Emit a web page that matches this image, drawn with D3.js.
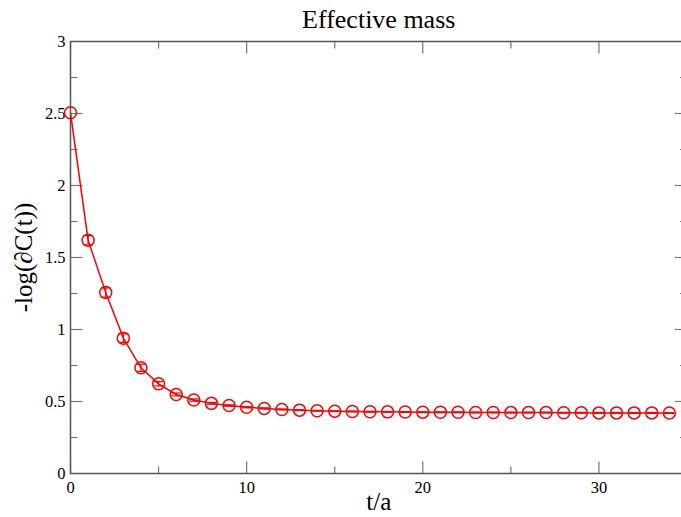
<!DOCTYPE html>
<html lang="en">
<head>
  <meta charset="UTF-8">
  <title>Effective mass</title>
  <script src="https://d3js.org/d3.v7.min.js"></script>
  <style>
    body { margin: 0; background: #fff; }
    svg { display: block; font-family: "Liberation Serif", "DejaVu Serif", serif; }
    .tick-label { font-size: 16.5px; fill: #000; }
    .axis-line { stroke: #555; stroke-width: 1.5; fill: none; }
    .tick { stroke: #777; stroke-width: 1.2; }
  </style>
</head>
<body>
  <svg id="chart" width="681" height="517"></svg>
  <script>
    // data
    const times = d3.range(0, 35);
    const massValues = [2.505, 1.62, 1.257, 0.94, 0.734, 0.623, 0.549, 0.51, 0.487, 0.472,
                        0.46, 0.452, 0.445, 0.44, 0.436, 0.433, 0.431, 0.429, 0.428, 0.427,
                        0.426, 0.425, 0.425, 0.424, 0.424, 0.423, 0.423, 0.423, 0.422, 0.422,
                        0.421, 0.421, 0.421, 0.421, 0.42];
    const massErrors = [0.0, 0.032, 0.032, 0.03, 0.025, 0.015, 0.01, 0.008, 0.006, 0.005,
                        0.004, 0.004, 0.003, 0.003, 0.003, 0.003, 0.003, 0.003, 0.003, 0.003,
                        0.003, 0.003, 0.003, 0.003, 0.003, 0.003, 0.003, 0.003, 0.003, 0.003,
                        0.003, 0.003, 0.003, 0.003, 0.003];
    const xMajorTicks = [0, 10, 20, 30];
    const xMinorTicks = [5, 15, 25];
    const yMajorTicks = [0, 0.5, 1, 1.5, 2, 2.5, 3];
    const yMinorTicks = [0.25, 0.75, 1.25, 1.75, 2.25, 2.75];

    const margin = {left: 70.5, top: 41.5, right: 687, bottom: 473.5};
    const svg = d3.select("#chart");

    const x = d3.scaleLinear().domain([0, 35]).range([margin.left, margin.right]);
    const y = d3.scaleLinear().domain([0, 3]).range([margin.bottom, margin.top]);

    const majorLen = 12, minorLen = 7;
    const g = svg.append("g");

    // ticks on all four sides, pointing inward
    function vTicks(vals, len) {
      vals.forEach(v => {
        g.append("line").attr("class", "tick")
          .attr("x1", x(v)).attr("x2", x(v))
          .attr("y1", margin.bottom).attr("y2", margin.bottom - len);
        g.append("line").attr("class", "tick")
          .attr("x1", x(v)).attr("x2", x(v))
          .attr("y1", margin.top).attr("y2", margin.top + len);
      });
    }
    function hTicks(vals, len) {
      vals.forEach(v => {
        g.append("line").attr("class", "tick")
          .attr("x1", margin.left).attr("x2", margin.left + len)
          .attr("y1", y(v)).attr("y2", y(v));
        g.append("line").attr("class", "tick")
          .attr("x1", margin.right).attr("x2", margin.right - len)
          .attr("y1", y(v)).attr("y2", y(v));
      });
    }
    vTicks(xMajorTicks, majorLen);
    vTicks(xMinorTicks, minorLen);
    hTicks(yMajorTicks.filter(v => v > 0 && v < 3), majorLen);
    hTicks(yMinorTicks, minorLen);

    // frame
    g.append("rect").attr("class", "axis-line")
      .attr("x", margin.left).attr("y", margin.top)
      .attr("width", margin.right - margin.left)
      .attr("height", margin.bottom - margin.top);

    // tick labels
    g.selectAll(".xl").data(xMajorTicks).join("text")
      .attr("class", "tick-label")
      .attr("x", d => x(d)).attr("y", margin.bottom + 19)
      .attr("text-anchor", "middle")
      .text(d => d);
    g.selectAll(".yl").data(yMajorTicks).join("text")
      .attr("class", "tick-label")
      .attr("x", margin.left - 5).attr("y", d => y(d) + 5.5)
      .attr("text-anchor", "end")
      .text(d => d);

    // title and axis labels
    svg.append("text")
      .attr("x", (margin.left + margin.right) / 2).attr("y", 28)
      .attr("text-anchor", "middle")
      .style("font-size", "26px")
      .text("Effective mass");
    svg.append("text")
      .attr("x", (margin.left + margin.right) / 2).attr("y", 510)
      .attr("text-anchor", "middle")
      .style("font-size", "25px")
      .text("t/a");
    svg.append("text")
      .attr("transform", `translate(32,${(margin.top + margin.bottom) / 2}) rotate(-90)`)
      .attr("text-anchor", "middle")
      .style("font-size", "25px")
      .text("-log(\u2202C(t))");

    // series
    const pts = times.map((t, i) => ({t, v: massValues[i], e: massErrors[i]}));
    const line = d3.line().x(d => x(d.t)).y(d => y(d.v));
    svg.append("path").datum(pts)
      .attr("d", line)
      .attr("fill", "none").attr("stroke", "red").attr("stroke-width", 1.5);

    const cap = 5;
    const eb = svg.append("g").attr("stroke", "red").attr("stroke-width", 1.2);
    pts.forEach(d => {
      if (!d.e) return;
      eb.append("line").attr("x1", x(d.t)).attr("x2", x(d.t))
        .attr("y1", y(d.v - d.e)).attr("y2", y(d.v + d.e));
      eb.append("line").attr("x1", x(d.t) - cap).attr("x2", x(d.t) + cap)
        .attr("y1", y(d.v - d.e)).attr("y2", y(d.v - d.e));
      eb.append("line").attr("x1", x(d.t) - cap).attr("x2", x(d.t) + cap)
        .attr("y1", y(d.v + d.e)).attr("y2", y(d.v + d.e));
    });

    svg.append("g").selectAll("circle").data(pts).join("circle")
      .attr("cx", d => x(d.t)).attr("cy", d => y(d.v))
      .attr("r", 6)
      .attr("fill", "none").attr("stroke", "red").attr("stroke-width", 1.5);
  </script>
</body>
</html>
